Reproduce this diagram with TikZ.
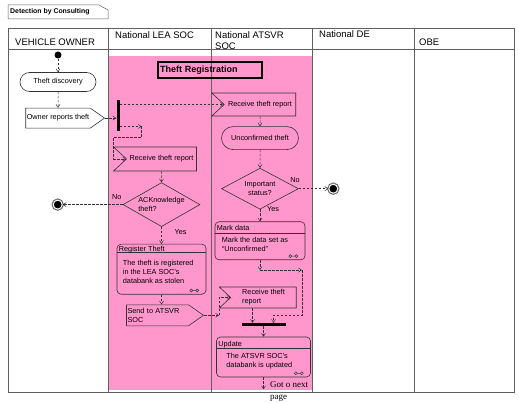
\documentclass[tikz,border=0pt]{standalone}
\usepackage{fontspec}
\setmainfont{Liberation Sans}
\newfontfamily\pagefont{Liberation Serif}
\usetikzlibrary{shapes,arrows.meta,positioning}
\definecolor{lanepink}{RGB}{255,150,204}
\definecolor{laneline}{RGB}{95,95,95}
\newcommand{\subicon}[1]{%
  \draw[black!80,line width=0.5pt] ([xshift=-15pt,yshift=4pt]#1.south east) circle (1.5pt) ++(1.5pt,0) -- ++(3pt,0) ++(1.5pt,0) circle (1.5pt);}

\begin{document}
\begin{tikzpicture}[
    x=1pt,y=-1pt,>={Straight Barb[length=3pt,width=4pt]},
    font=\fontsize{7.3}{9}\selectfont,
    lane/.style={draw=laneline,line width=0.7pt},
    head/.style={font=\fontsize{9.5}{11}\selectfont,anchor=west,inner sep=0pt,align=left},
    flow/.style={->,draw=black!80,dash pattern=on 2.5pt off 1.5pt,line width=0.5pt},
    shp/.style={draw=black!80,line width=0.6pt},
    act/.style={shp,rounded rectangle,minimum width=78pt,minimum height=19pt,inner sep=1pt},
    sendsig/.style={shp,signal,signal to=east,signal from=nowhere,signal pointer angle=70,align=left,inner sep=1pt},
    recvsig/.style={shp,signal,signal to=nowhere,signal from=west,signal pointer angle=85,align=left,inner sep=1pt},
    ask/.style={shp,diamond,aspect=1.8,inner sep=0pt},
    sbox/.style={shp,rounded corners=4pt,path picture={\draw[black!80,line width=0.6pt] ([yshift=-#1]path picture bounding box.north west) -- ([yshift=-#1]path picture bounding box.north east);}},
    hdr/.style={inner sep=0pt,anchor=north west},
    body/.style={inner sep=0pt,anchor=north west,align=left},
    syncbar/.style={fill=black,inner sep=0pt},
    startdot/.style={circle,fill=black,inner sep=0pt,minimum size=7pt},
    enddot/.style={circle,fill=black,inner sep=0pt,minimum size=9pt,draw=white,line width=1pt,preaction={draw=black!60,line width=3.2pt}},
    lbl/.style={inner sep=0pt}]
    \useasboundingbox (0,0) rectangle (519,403);

    % lanes
    \fill[lanepink] (108,56) rectangle (312,390);
    \draw[lane] (8,28) rectangle (514,392);
    \draw[lane] (8,49) -- (514,49);
    \draw[lane] (108,28) -- (108,392);
    \draw[lane] (211,28) -- (211,392);
    \draw[lane] (312,28) -- (312,392);
    \draw[lane] (414,28) -- (414,392);
    \draw[lane,line width=0.5pt] (8,5) -- (99,5) -- (108,10) -- (108,19) -- (8,19) -- cycle;
    \node[lbl,anchor=west,font=\bfseries\fontsize{6.9}{8}\selectfont] (frametitle) at (10,12) {Detection by Consulting};

    \node[head] (hvo) at (15,42) {VEHICLE OWNER};
    \node[head] (hlea) at (115,35) {National LEA SOC};
    \node[head,anchor=north west] (hatsvr) at (215,31) {National ATSVR\\SOC};
    \node[head] (hde) at (319,34) {National DE};
    \node[head] (hobe) at (419,42) {OBE};

    \node[draw,line width=1.2pt,minimum width=104pt,minimum height=16pt,text width=100pt,inner xsep=2pt,align=left,
      font=\bfseries\fontsize{9}{11}\selectfont] (treg) at (210,70) {Theft Registration};

    % vehicle owner
    \node[startdot] (start) at (58,55) {};
    \node[act,below=13.5pt of start] (discovery) {Theft discovery};
    \node[sendsig,minimum width=77pt,minimum height=20pt,below=16pt of discovery] (report) {Owner reports theft};
    \node[syncbar,minimum width=3pt,minimum height=31pt] (fork) at (118,115.5) {};

    % LEA SOC
    \node[recvsig,minimum width=83pt,minimum height=24pt] (recvlea) at (161.5,159) {Receive theft report};
    \node[ask,minimum width=77pt,minimum height=44pt,align=left,below=11pt of recvlea] (ack) {ACKnowledge\\theft?};
    \node[enddot,left=60pt of ack] (end1) {};
    \node[sbox=8pt,minimum width=89pt,minimum height=50pt,below=17pt of ack] (register) {};
    \node[hdr,below right=2pt and 2pt of register.north west] (registerhd) {Register Theft};
    \node[body,below right=16pt and 6pt of register.north west] (registerbd) {The theft is registered\\in the LEA SOC's\\databank as stolen};
    \node[sendsig,minimum height=21pt,text width=60pt,below=10pt of register,xshift=-4pt] (send) {Send to ATSVR\\SOC};

    % ATSVR SOC
    \node[recvsig,minimum width=84pt,minimum height=23pt] (recv1) at (260,104.5) {Receive theft report};
    \node[act,minimum width=79pt,minimum height=23pt,below=10pt of recv1] (unconf) {Unconfirmed theft};
    \node[ask,minimum width=77pt,minimum height=41pt,align=center,below=18pt of unconf] (imp) {Important\\status?};
    \node[enddot,right=29.5pt of imp] (end2) {};
    \node[sbox=12pt,minimum width=90pt,minimum height=38pt,below=12pt of imp] (markdata) {};
    \node[hdr,below right=4pt and 2pt of markdata.north west] (markdatahd) {Mark data};
    \node[body,below right=16pt and 7pt of markdata.north west] (markdatabd) {Mark the data set as\\``Unconfirmed''};
    \node[recvsig,minimum width=77pt,minimum height=21pt] (recv2) at (263.5,297.5) {Receive theft\\report};
    \node[syncbar,minimum width=44pt,minimum height=3pt,below=14.5pt of recv2] (join) {};
    \node[sbox=11pt,minimum width=94pt,minimum height=40pt,below=10.5pt of join] (update) {};
    \node[hdr,below right=4pt and 2pt of update.north west] (updatehd) {Update};
    \node[body,below right=16pt and 10pt of update.north west] (updatebd) {The ATSVR SOC's\\databank is updated};
    \coordinate[below=12pt of update] (nextpg);
    \node[lbl,anchor=north west,align=left,font=\pagefont\fontsize{9}{12.5}\selectfont] (gonext) at (270,381) {Got o next\\page};

    \subicon{register}
    \subicon{markdata}
    \subicon{update}

    % flows
    \draw[flow] (start) -- (discovery);
    \draw[flow] (discovery) -- (report);
    \draw[flow] (report.east) -- (report.east -| fork.west);
    \draw[flow] (fork.east |- recv1.west) -- (recv1.west);
    \draw[flow] ([yshift=-11pt]fork.east) -- ++(22,0) coordinate (j1);
    \draw[flow] (j1) -- ++(0,11) -- ++(-28,0) |- (recvlea.west);
    \draw[flow] (recvlea) -- (ack);
    \draw[flow] (ack.west) -- (end1);
    \node[lbl,above left=5pt and 1pt of ack.west] (ackno) {No};
    \draw[flow] (ack) -- (register);
    \node[lbl,below right=2pt and 13pt of ack.south] (ackyes) {Yes};
    \draw[flow] (register) -- (register |- send.north);
    \draw[flow] (send.east) -- ++(15,0) coordinate (j4);
    \draw[flow] (j4) |- (recv2.west);

    \draw[flow] (recv1) -- (unconf);
    \draw[flow] (unconf) -- (imp);
    \draw[flow] (imp.east) -- (end2);
    \node[lbl,above left=6pt and -1pt of imp.east] (impno) {No};
    \draw[flow] (imp) -- (markdata);
    \node[lbl,right=7pt of imp.south] (impyes) {Yes};
    \draw[flow] (markdata.south) -- ++(0,10) coordinate (j2);
    \draw[flow] (j2) -- ++(42,0) coordinate (j3);
    \draw[flow] (j3) -- ++(0,45) -| ([xshift=10pt]join.north);
    \draw[flow] ([xshift=-11pt]recv2.south) -- ([xshift=-11pt]recv2.south |- join.north);
    \draw[flow] (join) -- (update);
    \draw[flow] (update) -- (nextpg);
\end{tikzpicture}
\end{document}
